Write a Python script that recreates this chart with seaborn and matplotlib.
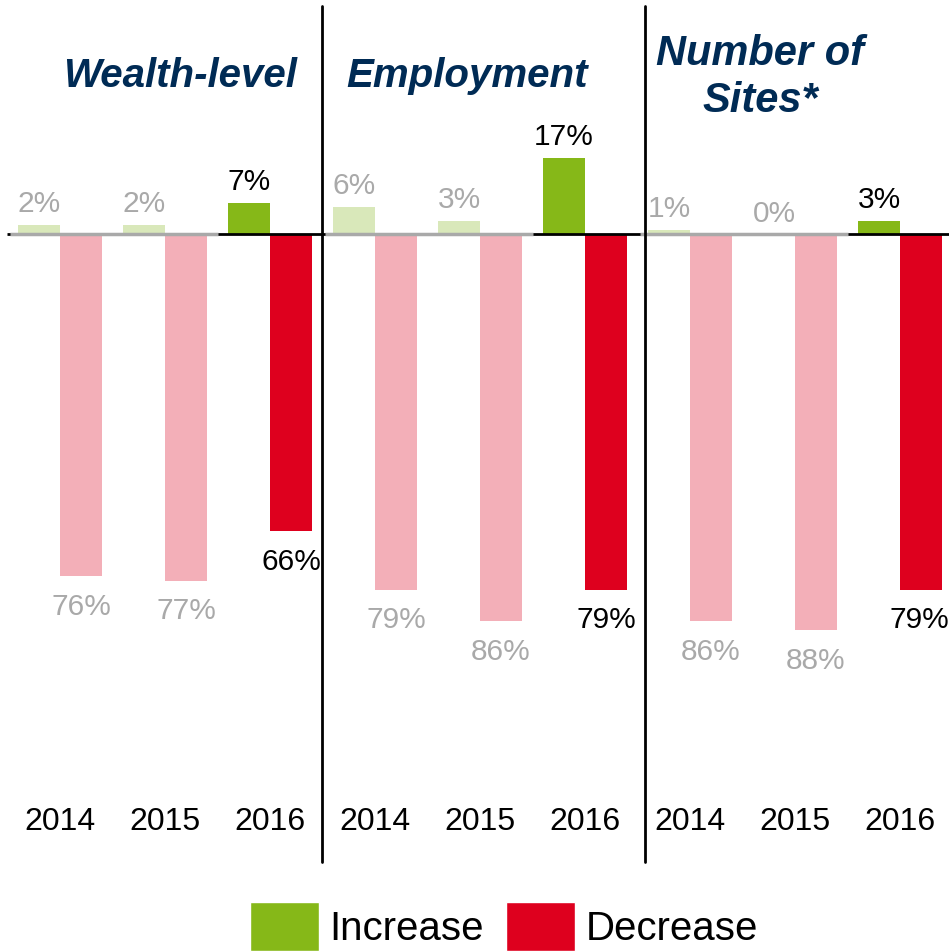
import pandas as pd
import seaborn as sns
import matplotlib.pyplot as plt
from matplotlib.patches import Patch

# data
panels = ["Wealth-level", "Employment", "Number of Sites*"]
years = ["2014", "2015", "2016"]
increase = [2, 2, 7, 6, 3, 17, 1, 0, 3]
decrease = [76, 77, 66, 79, 86, 79, 86, 88, 79]

GREEN, GREEN_PALE = "#86B818", "#D9E8BA"
RED, RED_PALE = "#DE001E", "#F3AFB8"
GREY = "#A9A9A9"
NAVY = "#002B55"

sns.set_theme(style="white")
plt.rcParams["font.family"] = ["Liberation Sans", "DejaVu Sans"]
plt.rcParams["text.color"] = "black"

slots = [f"{p} {y}" for p in panels for y in years]
df = pd.DataFrame({
    "slot": slots * 2,
    "kind": ["Increase"] * len(slots) + ["Decrease"] * len(slots),
    "value": increase + [-v for v in decrease],
})

fig = plt.figure(figsize=(9.49, 9.52), dpi=100)
ax = fig.add_axes([0, 0, 1, 1])
sns.barplot(data=df, x="slot", y="value", hue="kind", order=slots,
            hue_order=["Increase", "Decrease"], palette=[GREEN, RED],
            dodge=True, width=0.8, errorbar=None, legend=False,
            saturation=1, ax=ax)

px = 4.5  # pixels per percentage point
ax.set_xlim(-60 / 105, (949 - 60) / 105)
ax.set_ylim(-(952 - 234) / px, 234 / px)
ax.set_axis_off()

inc_bars, dec_bars = ax.containers[0], ax.containers[1]
for i in range(len(slots)):
    old = i % 3 < 2
    ib, db = inc_bars[i], dec_bars[i]
    ib.set_facecolor(GREEN_PALE if old else GREEN)
    db.set_facecolor(RED_PALE if old else RED)
    ib.set_edgecolor("none")
    db.set_edgecolor("none")
    col = GREY if old else "black"
    xc = ib.get_x() + ib.get_width() / 2
    ax.annotate(f"{increase[i]}%", (xc, increase[i]), xytext=(0, 9),
                textcoords="offset points", ha="center", va="baseline",
                fontsize=21.5, color=col)
    xd = db.get_x() + db.get_width() / 2
    nudge = -1.5 if i == len(slots) - 1 else 0
    ax.annotate(f"{decrease[i]}%", (xd, -decrease[i]), xytext=(nudge, -12),
                textcoords="offset points", ha="center", va="top",
                fontsize=21.5, color=col)
    ax.text(i, -(822 - 234) / px, years[i % 3], ha="center", va="center",
            fontsize=23, color="black")

# zero line: black, grey under the earlier years
ax.plot([-0.505, 8.467], [0, 0], color="black", lw=2, solid_capstyle="butt", zorder=3)
for p in range(3):
    ax.plot([3 * p - 0.48, 3 * p + 1.5], [0, 0], color=GREY, lw=2.5,
            solid_capstyle="butt", zorder=4)

# panel separators
for xs in [2.495, 5.57]:
    ax.plot([xs, xs], [(234 - 6) / px, -(862 - 234) / px], color="black", lw=2, zorder=5)

title_kw = dict(fontweight="bold", fontstyle="italic", color=NAVY,
                ha="center", va="baseline")
ax.text(1.14, (234 - 87) / px, "Wealth-level", fontsize=29, **title_kw)
ax.text(3.88, (234 - 87) / px, "Employment", fontsize=29, **title_kw)
ax.text(6.67, (234 - 65) / px, "Number of", fontsize=30, **title_kw)
ax.text(6.67, (234 - 112) / px, "Sites*", fontsize=30, **title_kw)

handles = [Patch(facecolor=GREEN, label="Increase"), Patch(facecolor=RED, label="Decrease")]
ax.legend(handles=handles, loc="upper center", bbox_to_anchor=(0.531, 0.0525),
          ncol=2, frameon=False, fontsize=29, handlelength=1.72, handleheight=1.5,
          handletextpad=0.25, columnspacing=0.55, borderpad=0, borderaxespad=0,
          labelcolor="black")

fig.savefig("out.png", dpi=100)
